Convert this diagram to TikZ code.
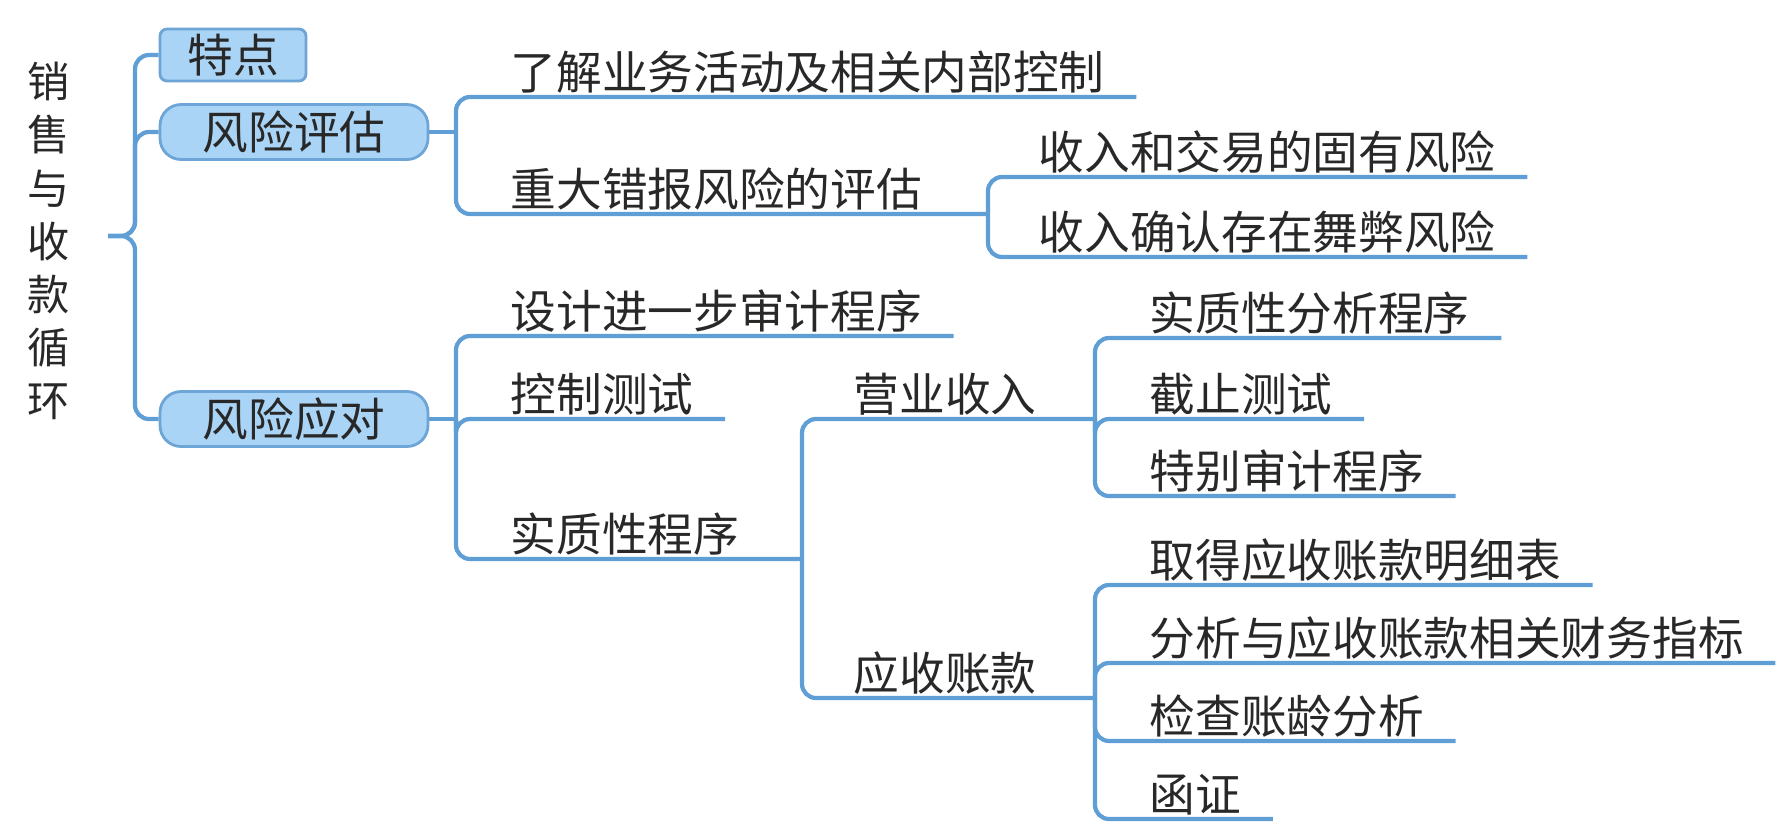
\documentclass[tikz,border=0pt]{standalone}
\usepackage{fontspec}
\newfontfamily\cjk{Noto Sans CJK SC}
\usetikzlibrary{calc}

\definecolor{boxfill}{RGB}{170,212,245}
\definecolor{boxline}{RGB}{110,165,215}
\definecolor{linkblue}{RGB}{96,158,214}
\definecolor{ink}{RGB}{40,40,40}

\begin{document}
\begin{tikzpicture}[
  topic/.style={draw=boxline,fill=boxfill,line width=0.8pt,rounded corners=6pt,
    minimum width=2.68cm,minimum height=0.55cm,inner sep=0pt,
    font=\cjk\fontsize{13}{15}\selectfont,text=ink},
  item/.style={anchor=base west,inner sep=0pt,font=\cjk\fontsize{13}{15}\selectfont,text=ink},
  link/.style={draw=linkblue,line width=1.2pt,rounded corners=4pt}]
  \useasboundingbox (0,0) rectangle (17.88,-8.34);

  % root and first level
  \node[text=ink,font=\cjk\fontsize{12}{15.1}\selectfont,align=center] (title) at (0.49,-2.41)
    {销\\售\\与\\收\\款\\循\\环};
  \node[topic,rounded corners=2pt,minimum width=1.46cm,minimum height=0.52cm] (tedian) at (2.33,-0.55) {特点};
  \node[topic] (pinggu) at (2.94,-1.32) {风险评估};
  \node[topic] (yingdui) at (2.94,-4.19) {风险应对};

  % risk assessment
  \node[item] (liaojie) at (5.10,-0.89) {了解业务活动及相关内部控制};
  \node[item] (zhongda) at (5.10,-2.06) {重大错报风险的评估};
  \node[item] (guyou) at (10.38,-1.69) {收入和交易的固有风险};
  \node[item] (wubi) at (10.38,-2.49) {收入确认存在舞弊风险};

  % risk response
  \node[item] (sheji) at (5.10,-3.28) {设计进一步审计程序};
  \node[item] (kongzhi) at (5.10,-4.11) {控制测试};
  \node[item] (shizhi) at (5.10,-5.51) {实质性程序};
  \node[item] (yingye) at (8.53,-4.11) {营业收入};
  \node[item] (yingshou) at (8.53,-6.90) {应收账款};
  \node[item] (fenxi) at (11.49,-3.30) {实质性分析程序};
  \node[item] (jiezhi) at (11.49,-4.11) {截止测试};
  \node[item] (tebie) at (11.49,-4.88) {特别审计程序};
  \node[item] (qude) at (11.49,-5.77) {取得应收账款明细表};
  \node[item] (caiwu) at (11.49,-6.55) {分析与应收账款相关财务指标};
  \node[item] (zhangling) at (11.49,-7.33) {检查账龄分析};
  \node[item] (hanzheng) at (11.49,-8.11) {函证};

  % junctions
  \coordinate (root) at (1.08,-2.36);
  \coordinate (j0) at (1.35,-2.36);
  \coordinate (j1a) at (4.56,-1.32);
  \coordinate (j1b) at (4.56,-4.19);
  \coordinate (j2a) at (9.88,-2.14);
  \coordinate (j2b) at (8.02,-5.59);
  \coordinate (j3a) at (10.95,-4.19);
  \coordinate (j3b) at (10.95,-6.98);

  \foreach \t in {tedian,pinggu,yingdui}
    \draw[link] (root) -- (j0) |- (\t.west);
  \draw[link] (pinggu.east) -- (j1a);
  \draw[link] (yingdui.east) -- (j1b);
  \draw[link] (j1a) |- (j2a);
  \draw[link] (j1b) |- (j2b);
  \draw[link] (j2b) |- (j3a);
  \draw[link] (j2b) |- (j3b);
  \foreach \n/\j in {liaojie/j1a,guyou/j2a,wubi/j2a,sheji/j1b,kongzhi/j1b,
      fenxi/j3a,jiezhi/j3a,tebie/j3a,qude/j3b,caiwu/j3b,zhangling/j3b,hanzheng/j3b}
    \draw[link] (\j) |- ($(\n.base east)+(0.31,-0.08)$);
\end{tikzpicture}
\end{document}
